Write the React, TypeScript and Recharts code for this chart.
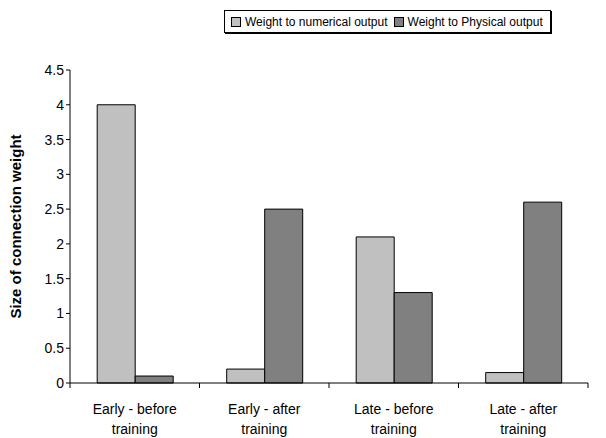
import { BarChart, Bar, XAxis, YAxis, Legend } from 'recharts';

const categories = ['Early - before training', 'Early - after training', 'Late - before training', 'Late - after training'];
const numericalWeights = [4.0, 0.2, 2.1, 0.15];
const physicalWeights = [0.1, 2.5, 1.3, 2.6];
const yTicks = [0, 0.5, 1, 1.5, 2, 2.5, 3, 3.5, 4, 4.5];

const data = categories.map((name, i) => ({
  name,
  numerical: numericalWeights[i],
  physical: physicalWeights[i],
}));

const FONT = '"Liberation Sans", Arial, sans-serif';
const PLOT_LEFT = 70;
const PLOT_RIGHT = 588;
const BAND = (PLOT_RIGHT - PLOT_LEFT) / categories.length;

const CategoryTick = (props: any) => {
  const { x, y, payload, index } = props;
  const label: string = payload.value;
  const parts = label.split(' training');
  const left = x - BAND / 2;
  return (
    <g>
      <line x1={left} y1={y - 8} x2={left} y2={y - 3} stroke="#000" />
      {index === categories.length - 1 && (
        <line x1={left + BAND} y1={y - 8} x2={left + BAND} y2={y - 3} stroke="#000" />
      )}
      <text x={x} y={y + 23} textAnchor="middle" fontSize={14} fontFamily={FONT} fill="#000">
        {parts[0]}
      </text>
      <text x={x} y={y + 43} textAnchor="middle" fontSize={14} fontFamily={FONT} fill="#000">
        training
      </text>
    </g>
  );
};

const swatch = (color: string) => ({
  display: 'inline-block',
  flexShrink: 0,
  width: 8,
  height: 8,
  background: color,
  border: '1px solid #000',
  marginRight: 4,
});

const LegendBox = () => (
  <div
    style={{
      position: 'absolute',
      left: 224,
      top: 10,
      height: 17,
      border: '1px solid #000',
      boxShadow: '1px 1px 0 #000',
      padding: '2px 7px 2px 6px',
      fontFamily: FONT,
      fontSize: 12,
      display: 'flex',
      alignItems: 'center',
      background: '#fff',
      whiteSpace: 'nowrap',
    }}
  >
    <span style={swatch('#c0c0c0')} />
    <span style={{ marginRight: 6 }}>Weight to numerical output</span>
    <span style={swatch('#808080')} />
    <span>Weight to Physical output</span>
  </div>
);

export default function App() {
  return (
    <div style={{ position: 'absolute', left: 0, top: 0, width: 606, height: 438, background: '#fff' }}>
      <BarChart
        width={606}
        height={438}
        data={data}
        margin={{ top: 70, right: 18, bottom: 0, left: 0 }}
        barCategoryGap="21%"
        barGap={0}
      >
        <XAxis
          dataKey="name"
          axisLine={{ stroke: '#000' }}
          tickLine={false}
          tick={<CategoryTick />}
          interval={0}
          height={55}
        />
        <YAxis
          width={70}
          domain={[0, 4.5]}
          ticks={yTicks}
          interval={0}
          axisLine={{ stroke: '#000' }}
          tickLine={{ stroke: '#000' }}
          tickSize={4}
          tick={{ fontSize: 14, fontFamily: FONT, fill: '#000' }}
          label={{
            value: 'Size of connection weight',
            angle: -90,
            position: 'insideLeft',
            offset: 16,
            style: { fontSize: 15, fontWeight: 'bold', fontFamily: FONT, fill: '#000', textAnchor: 'middle' },
          }}
        />
        <Legend content={() => <LegendBox />} wrapperStyle={{ position: 'absolute', left: 0, top: 0 }} />
        <Bar dataKey="numerical" fill="#c0c0c0" stroke="#000" strokeWidth={1} isAnimationActive={false} />
        <Bar dataKey="physical" fill="#808080" stroke="#000" strokeWidth={1} isAnimationActive={false} />
      </BarChart>
    </div>
  );
}
